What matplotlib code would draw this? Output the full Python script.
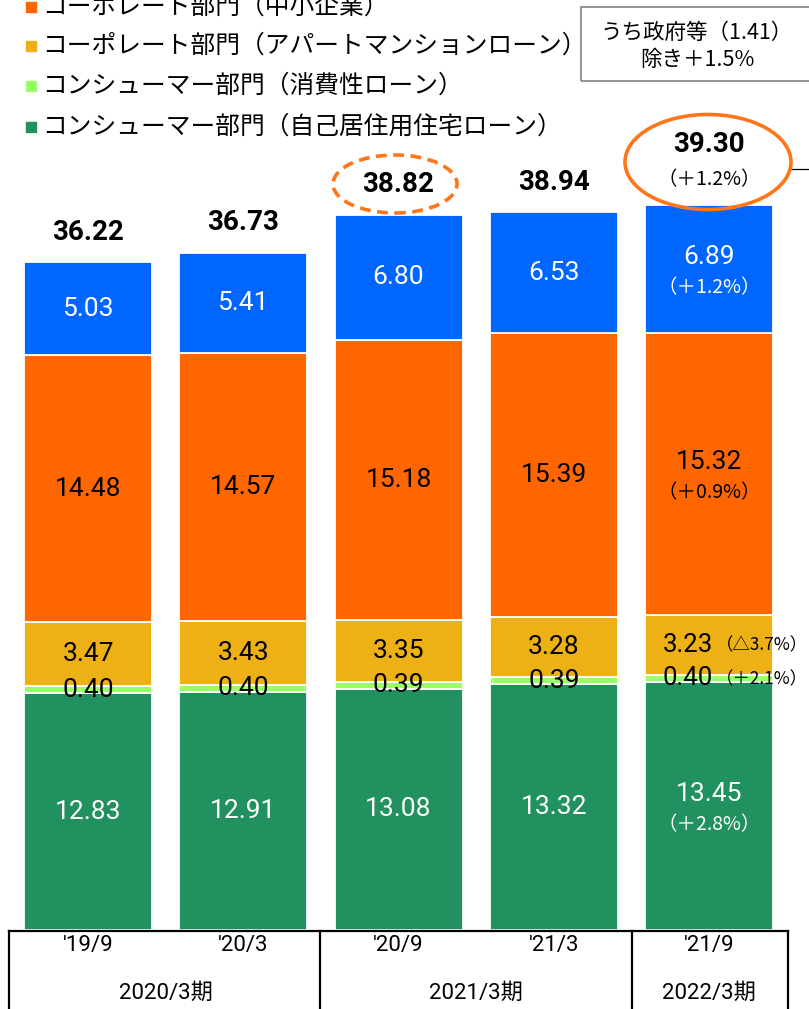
import matplotlib
matplotlib.use("Agg")
import matplotlib.pyplot as plt
from matplotlib.patches import Ellipse, Rectangle
from matplotlib.lines import Line2D

# ---------------- data ----------------
periods = ["'19/9", "'20/3", "'20/9", "'21/3", "'21/9"]
fiscal_groups = ["2020/3期", "2021/3期", "2022/3期"]
group_spans = [(0, 1), (2, 3), (4, 4)]

housing = [12.83, 12.91, 13.08, 13.32, 13.45]      # コンシューマー部門（自己居住用住宅ローン）
consumer = [0.40, 0.40, 0.39, 0.39, 0.40]          # コンシューマー部門（消費性ローン）
apartment = [3.47, 3.43, 3.35, 3.28, 3.23]         # コーポレート部門（アパートマンションローン）
sme = [14.48, 14.57, 15.18, 15.39, 15.32]          # コーポレート部門（中小企業）
large = [5.03, 5.41, 6.80, 6.53, 6.89]             # 上位セグメント
totals = [36.22, 36.73, 38.82, 38.94, 39.30]

series_names = ["コンシューマー部門（自己居住用住宅ローン）",
                "コンシューマー部門（消費性ローン）",
                "コーポレート部門（アパートマンションローン）",
                "コーポレート部門（中小企業）",
                ""]
series_values = [housing, consumer, apartment, sme, large]
series_colors = ["#20915F", "#99FF66", "#EEB115", "#FF6600", "#0066FF"]
label_colors = ["white", "black", "black", "black", "white"]

last_pct = ["（＋2.8%）", "（＋2.1%）", "（△3.7%）", "（＋0.9%）", "（＋1.2%）"]
total_pct_last = "（＋1.2%）"
note_text = "うち政府等（1.41）\n除き＋1.5%"

# ---------------- layout ----------------
W, H = 809, 1009
fig = plt.figure(figsize=(W / 100, H / 100), dpi=100)
ax = fig.add_axes([0, 0, 1, 1])
PXU = 18.44          # pixels per unit
Y0 = 930             # pixel row of baseline
SP = 155.25          # pixels between bar centres
X0 = 88              # pixel of first bar centre
ax.set_xlim(-X0 / SP, (W - X0) / SP)
ax.set_ylim(-(H - Y0) / PXU, Y0 / PXU)
ax.axis("off")

CJK = ["Noto Sans CJK JP", "DejaVu Sans"]
NUM = ["Roboto", "Noto Sans CJK JP", "DejaVu Sans"]


def fx(px):
    return px / W


def fy(py):
    return 1 - py / H


x = list(range(len(periods)))
bw = 128 / SP
bottoms = [0.0] * len(x)
for s, (vals, col) in enumerate(zip(series_values, series_colors)):
    ax.bar(x, vals, bw, bottom=bottoms, color=col, edgecolor="white",
           linewidth=1.3, zorder=2)
    for i, v in enumerate(vals):
        c = bottoms[i] + v / 2
        tc = label_colors[s]
        if i == len(x) - 1:
            if s in (1, 2):
                xl = i + (663 - (X0 + SP * i)) / SP
                ax.text(xl, c, f"{v:.2f}", ha="left", va="center",
                        fontsize=18.5, family=NUM, color=tc, zorder=5)
                xr = i + (808 - (X0 + SP * i)) / SP
                ax.text(xr, c - 0.05, last_pct[s], ha="right", va="center",
                        fontsize=12.5, family=CJK, color=tc, zorder=5)
            else:
                ax.text(i, c + 0.65, f"{v:.2f}", ha="center", va="center",
                        fontsize=19, family=NUM, color=tc, zorder=5)
                ax.text(i, c - 1.0, last_pct[s], ha="center", va="center",
                        fontsize=14, family=CJK, color=tc, zorder=5)
        else:
            ax.text(i, c, f"{v:.2f}", ha="center", va="center",
                    fontsize=19, family=NUM, color=tc, zorder=5)
        bottoms[i] += v

# totals
for i, t in enumerate(totals):
    if i == len(x) - 1:
        ax.text(i, t + 3.3, f"{t:.2f}", ha="center", va="center", fontsize=20,
                family=NUM, fontweight="bold", zorder=5)
        ax.text(i, t + 1.4, total_pct_last, ha="center", va="center", fontsize=14,
                family=CJK, zorder=5)
    else:
        ax.text(i, t + 1.62, f"{t:.2f}", ha="center", va="center", fontsize=20,
                family=NUM, fontweight="bold", zorder=5)

# ellipses
fig.add_artist(Ellipse((fx(395), fy(184)), 124 / W, 58 / H, transform=fig.transFigure,
                       fill=False, edgecolor="#FF7518", linewidth=2.6,
                       linestyle=(0, (3, 1.8)), zorder=6))
fig.add_artist(Ellipse((fx(708), fy(162)), 166 / W, 95 / H, transform=fig.transFigure,
                       fill=False, edgecolor="#FF7518", linewidth=2.6, zorder=6))
fig.add_artist(Line2D([fx(791), fx(809)], [fy(169), fy(169)], transform=fig.transFigure,
                      color="black", linewidth=0.9))

# note box
fig.add_artist(Rectangle((fx(581), fy(81)), (W + 5 - 581) / W, 74 / H,
                         transform=fig.transFigure, fill=False,
                         edgecolor="#808080", linewidth=1.2))
fig.text(fx(697), fy(46), note_text, ha="center", va="center", fontsize=15.5,
         family=CJK, linespacing=1.3)

# legend (top rows; the first visible row is partly cut off at the top edge)
leg_rows_y = [127, 86, 46, 7]
for s in range(4):
    yy = leg_rows_y[s]
    fig.add_artist(Rectangle((fx(26), fy(yy + 5)), 10 / W, 10 / H,
                             transform=fig.transFigure, color=series_colors[s]))
    fig.text(fx(42), fy(yy), series_names[s], ha="left", va="center",
             fontsize=17.8, family=CJK)

# category table
tl = dict(color="black", linewidth=1.6, transform=fig.transFigure)
fig.add_artist(Line2D([fx(9), fx(788)], [fy(931), fy(931)], **tl))
for vx in [9, 320, 632, 788]:
    fig.add_artist(Line2D([fx(vx), fx(vx)], [fy(931), fy(1012)], **tl))
for i, p in enumerate(periods):
    ax.text(i, -(946 - Y0) / PXU, p, ha="center", va="center", fontsize=16,
            family=NUM)
for g, (a, b) in zip(fiscal_groups, group_spans):
    ax.text((a + b) / 2, -(993 - Y0) / PXU, g, ha="center", va="center",
            fontsize=16, family=NUM)

fig.savefig("out.png", dpi=100)
